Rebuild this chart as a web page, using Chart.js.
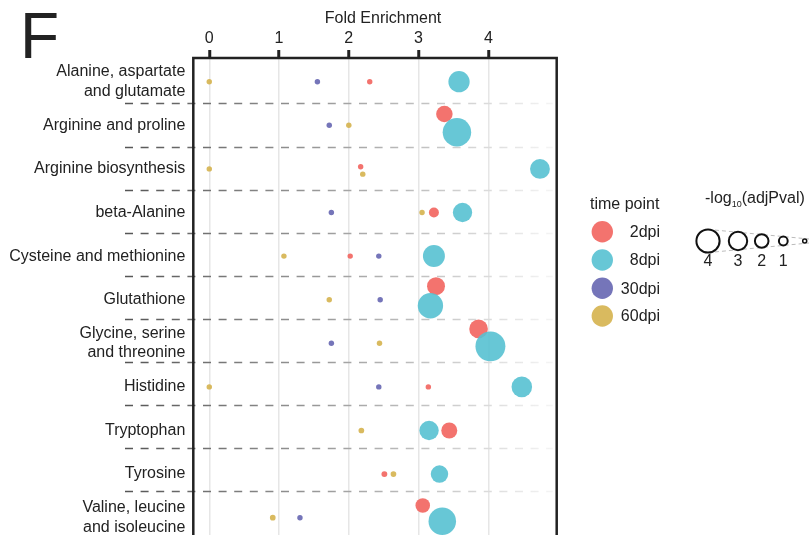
<!DOCTYPE html>
<html>
<head>
<meta charset="utf-8">
<script src="https://cdn.jsdelivr.net/npm/chart.js@4.4.1/dist/chart.umd.min.js"></script>
<style>
html, body { margin: 0; padding: 0; background: #fff; overflow: hidden; }
#wrap { width: 809px; height: 535px; }
</style>
</head>
<body>
<div id="wrap"><canvas id="chart" width="809" height="535"></canvas></div>
<script>
// pathway labels, top to bottom
const categories = [
    ['Alanine, aspartate', 'and glutamate'],
    'Arginine and proline',
    'Arginine biosynthesis',
    'beta-Alanine',
    'Cysteine and methionine',
    'Glutathione',
    ['Glycine, serine', 'and threonine'],
    'Histidine',
    'Tryptophan',
    'Tyrosine',
    ['Valine, leucine', 'and isoleucine']
];
const xTicks = [0, 1, 2, 3, 4];
const seriesNames = ['2dpi', '8dpi', '30dpi', '60dpi'];
const seriesColors = ['rgba(242,100,94,0.9)', 'rgba(87,193,210,0.9)', 'rgba(102,102,177,0.9)', 'rgba(213,178,78,0.9)'];

// 2dpi
const rows2 = [0, 1, 2, 3, 4, 5, 6, 7, 8, 9, 10];
const fold2 = [2.30, 3.37, 2.17, 3.22, 2.02, 3.25, 3.86, 3.14, 3.44, 2.51, 3.06];
const logp2 = [0.3, 2.6, 0.3, 1.25, 0.3, 2.9, 3.05, 0.3, 2.5, 0.4, 2.2];
const shift2 = [0, -0.26, -0.05, 0, 0, -0.31, -0.33, 0, 0, 0, -0.28];

// 8dpi
const rows8 = [0, 1, 2, 3, 4, 5, 6, 7, 8, 9, 10];
const fold8 = [3.58, 3.55, 4.74, 3.63, 3.22, 3.17, 4.03, 4.48, 3.15, 3.30, 3.34];
const logp8 = [3.6, 5.1, 3.3, 3.2, 3.75, 4.45, 5.4, 3.45, 3.2, 2.8, 4.9];
const shift8 = [0, 0.16, 0, 0, 0, 0.14, 0.07, 0, 0, 0, 0.08];

// 30dpi
const rows30 = [0, 1, 3, 4, 5, 6, 7, 10];
const fold30 = [1.55, 1.72, 1.75, 2.43, 2.45, 1.75, 2.43, 1.30];
const logp30 = [0.3, 0.3, 0.3, 0.3, 0.3, 0.3, 0.3, 0.3];
const shift30 = [0, 0, 0, 0, 0, 0, 0, 0];

// 60dpi
const rows60 = [0, 1, 2, 2, 3, 4, 5, 6, 7, 8, 9, 10];
const fold60 = [0, 2.0, 0, 2.2, 3.05, 1.07, 1.72, 2.44, 0, 2.18, 2.64, 0.91];
const logp60 = [0.3, 0.3, 0.3, 0.3, 0.3, 0.3, 0.3, 0.3, 0.3, 0.35, 0.35, 0.35];
const shift60 = [0, 0, 0, 0.12, 0, 0, 0, 0, 0, 0, 0, 0];

// size legend
const sizeKeys = [4, 3, 2, 1, 0];
const sizeLabels = ['4', '3', '2', '1', ''];

const FONT = '"Liberation Sans", Arial, Helvetica, sans-serif';
const INK = '#222';

function radiusFor(v) {
    return 2 + 2.4 * v;
}

function makePoints(rows, fold, logp, shift) {
    return rows.map((r, i) => ({ x: fold[i], y: r + shift[i], r: radiusFor(logp[i]) }));
}

const seriesData = [
    makePoints(rows2, fold2, logp2, shift2),
    makePoints(rows8, fold8, logp8, shift8),
    makePoints(rows30, fold30, logp30, shift30),
    makePoints(rows60, fold60, logp60, shift60)
];
// teal drawn over red
const drawOrder = [1, 0, 2, 3];

const extras = {
    id: 'extras',
    beforeDatasetsDraw(chart) {
        const ctx = chart.ctx;
        const y = chart.scales.y;
        const area = chart.chartArea;
        ctx.save();
        const grad = ctx.createLinearGradient(125, 0, 552, 0);
        grad.addColorStop(0, '#555');
        grad.addColorStop(0.45, '#999');
        grad.addColorStop(1, '#f4f4f4');
        ctx.strokeStyle = grad;
        ctx.lineWidth = 1.5;
        ctx.setLineDash([8, 7.6]);
        for (let k = 0; k < categories.length - 1; k++) {
            // separators sit a touch above the row midpoints in the source
            const py = Math.round(y.getPixelForValue(k + 0.5) - k * 0.55) + 0.5;
            ctx.beginPath();
            ctx.moveTo(125, py);
            ctx.lineTo(area.right - 4, py);
            ctx.stroke();
        }
        ctx.restore();
    },
    afterDraw(chart) {
        const ctx = chart.ctx;
        const area = chart.chartArea;
        ctx.save();

        // frame (bottom runs off the picture)
        ctx.strokeStyle = INK;
        ctx.lineWidth = 2.5;
        ctx.beginPath();
        ctx.moveTo(area.left, chart.height + 5);
        ctx.lineTo(area.left, area.top);
        ctx.lineTo(area.right, area.top);
        ctx.lineTo(area.right, chart.height + 5);
        ctx.stroke();

        // panel letter and axis title
        ctx.fillStyle = INK;
        ctx.textBaseline = 'alphabetic';
        ctx.textAlign = 'left';
        ctx.font = '64px ' + FONT;
        ctx.fillText('F', 20, 58);
        ctx.textAlign = 'center';
        ctx.textBaseline = 'middle';
        ctx.font = '16px ' + FONT;
        ctx.fillText('Fold Enrichment', 383, 19);

        // time point legend
        ctx.textAlign = 'left';
        ctx.fillText('time point', 590, 205);
        const ly = [231.7, 260, 288.3, 316];
        seriesNames.forEach((name, i) => {
            ctx.fillStyle = seriesColors[i];
            ctx.beginPath();
            ctx.arc(602.3, ly[i], 10.7, 0, Math.PI * 2);
            ctx.fill();
            ctx.fillStyle = INK;
            ctx.textAlign = 'right';
            ctx.fillText(name, 660, ly[i] + 1);
        });

        // size legend
        ctx.textAlign = 'left';
        ctx.font = '16px ' + FONT;
        let tx = 705;
        ctx.fillText('-log', tx, 199);
        tx += ctx.measureText('-log').width;
        ctx.font = '9px ' + FONT;
        ctx.fillText('10', tx, 205);
        tx += ctx.measureText('10').width;
        ctx.font = '16px ' + FONT;
        ctx.fillText('(adjPval)', tx, 199);

        const cx = [708, 738, 761.7, 783.3, 804.7];
        const cy = 241;
        ctx.strokeStyle = '#bbb';
        ctx.lineWidth = 1;
        ctx.setLineDash([4, 3]);
        ctx.beginPath();
        ctx.moveTo(708, cy - radiusFor(4));
        ctx.lineTo(809, cy - 2);
        ctx.moveTo(708, cy + radiusFor(4));
        ctx.lineTo(809, cy + 2);
        ctx.stroke();
        ctx.setLineDash([]);
        sizeKeys.forEach((v, i) => {
            ctx.beginPath();
            ctx.arc(cx[i], cy, radiusFor(v), 0, Math.PI * 2);
            ctx.fillStyle = '#fff';
            ctx.fill();
            ctx.strokeStyle = '#111';
            ctx.lineWidth = v === 0 ? 1.5 : 2;
            ctx.stroke();
            ctx.fillStyle = INK;
            ctx.textAlign = 'center';
            ctx.fillText(sizeLabels[i], cx[i], 262);
        });
        ctx.restore();
    }
};

Chart.defaults.font.family = FONT;
Chart.defaults.color = INK;

new Chart(document.getElementById('chart'), {
    type: 'bubble',
    data: {
        datasets: seriesNames.map((name, i) => ({
            label: name,
            data: seriesData[i],
            backgroundColor: seriesColors[i],
            borderWidth: 0,
            hoverBorderWidth: 0,
            order: drawOrder[i]
        }))
    },
    options: {
        responsive: false,
        animation: false,
        events: [],
        layout: { autoPadding: false, padding: { left: 0, top: 0, right: 809 - 556.7, bottom: 0 } },
        scales: {
            x: {
                type: 'linear',
                position: 'top',
                min: -0.229,
                max: 4.98,
                afterBuildTicks: s => { s.ticks = xTicks.map(v => ({ value: v })); },
                afterFit: s => { s.height = 58; s.paddingLeft = 0; s.paddingRight = 0; },
                border: { display: false },
                grid: {
                    color: '#e6e6e6',
                    lineWidth: 1.5,
                    tickColor: INK,
                    tickWidth: 3,
                    tickLength: 8
                },
                ticks: { font: { size: 16 }, color: INK, padding: 2, maxRotation: 0 }
            },
            y: {
                type: 'linear',
                reverse: true,
                min: -0.5436,
                max: 10.397,
                afterBuildTicks: s => { s.ticks = categories.map((c, i) => ({ value: i })); },
                afterFit: s => { s.width = 193.3; s.paddingTop = 0; s.paddingBottom = 0; },
                border: { display: false },
                grid: { display: false, drawTicks: false },
                ticks: {
                    autoSkip: false,
                    padding: 8,
                    font: { size: 16, lineHeight: 1.22 },
                    color: INK,
                    callback: (v, i) => categories[i]
                }
            }
        },
        plugins: {
            legend: { display: false },
            tooltip: { enabled: false }
        }
    },
    plugins: [extras]
});
</script>
</body>
</html>
